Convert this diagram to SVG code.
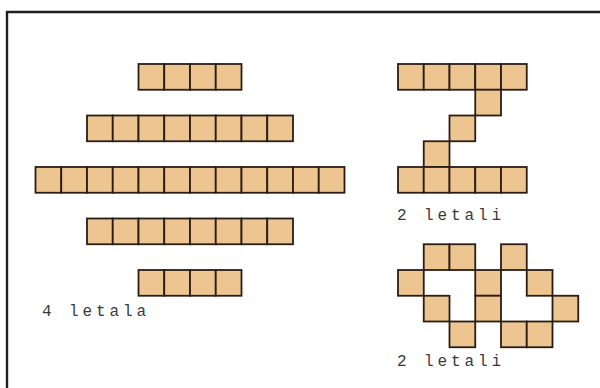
<svg xmlns="http://www.w3.org/2000/svg" xmlns:xlink="http://www.w3.org/1999/xlink" width="600" height="388" viewBox="0 0 600 388">
<style>
.sq{fill:#EDC591;stroke:#2b1d14;stroke-width:1.8}
.frame{fill:none;stroke:#1e1e1e;stroke-width:2.4}
.lbl{font-family:"Liberation Mono","DejaVu Sans Mono",monospace;font-size:16px;letter-spacing:3.9px;fill:#3a3a3a}
</style>
<defs>
<rect id="c" class="sq" width="25.75" height="25.75"/>
</defs>
<rect width="600" height="388" fill="#ffffff"/>
<path class="frame" d="M7,388 V12 H600"/>
<g id="bar-4-top">
<use href="#c" x="138.5" y="64"/><use href="#c" x="164.25" y="64"/><use href="#c" x="190" y="64"/><use href="#c" x="215.75" y="64"/>
</g>
<g id="bar-8-upper">
<use href="#c" x="87" y="115.5"/><use href="#c" x="112.75" y="115.5"/><use href="#c" x="138.5" y="115.5"/><use href="#c" x="164.25" y="115.5"/><use href="#c" x="190" y="115.5"/><use href="#c" x="215.75" y="115.5"/><use href="#c" x="241.5" y="115.5"/><use href="#c" x="267.25" y="115.5"/>
</g>
<g id="bar-12">
<use href="#c" x="35.5" y="167"/><use href="#c" x="61.25" y="167"/><use href="#c" x="87" y="167"/><use href="#c" x="112.75" y="167"/><use href="#c" x="138.5" y="167"/><use href="#c" x="164.25" y="167"/><use href="#c" x="190" y="167"/><use href="#c" x="215.75" y="167"/><use href="#c" x="241.5" y="167"/><use href="#c" x="267.25" y="167"/><use href="#c" x="293" y="167"/><use href="#c" x="318.75" y="167"/>
</g>
<g id="bar-8-lower">
<use href="#c" x="87" y="218.5"/><use href="#c" x="112.75" y="218.5"/><use href="#c" x="138.5" y="218.5"/><use href="#c" x="164.25" y="218.5"/><use href="#c" x="190" y="218.5"/><use href="#c" x="215.75" y="218.5"/><use href="#c" x="241.5" y="218.5"/><use href="#c" x="267.25" y="218.5"/>
</g>
<g id="bar-4-bottom">
<use href="#c" x="138.5" y="270"/><use href="#c" x="164.25" y="270"/><use href="#c" x="190" y="270"/><use href="#c" x="215.75" y="270"/>
</g>
<g id="z-shape">
<use href="#c" x="398" y="64"/><use href="#c" x="423.75" y="64"/><use href="#c" x="449.5" y="64"/><use href="#c" x="475.25" y="64"/><use href="#c" x="501" y="64"/>
<use href="#c" x="475.25" y="89.75"/>
<use href="#c" x="449.5" y="115.5"/>
<use href="#c" x="423.75" y="141.25"/>
<use href="#c" x="398" y="167"/><use href="#c" x="423.75" y="167"/><use href="#c" x="449.5" y="167"/><use href="#c" x="475.25" y="167"/><use href="#c" x="501" y="167"/>
</g>
<g id="chain-shape">
<use href="#c" x="423.75" y="244.25"/><use href="#c" x="449.5" y="244.25"/><use href="#c" x="501" y="244.25"/>
<use href="#c" x="398" y="270"/><use href="#c" x="475.25" y="270"/><use href="#c" x="526.75" y="270"/>
<use href="#c" x="423.75" y="295.75"/><use href="#c" x="475.25" y="295.75"/><use href="#c" x="552.5" y="295.75"/>
<use href="#c" x="449.5" y="321.5"/><use href="#c" x="501" y="321.5"/><use href="#c" x="526.75" y="321.5"/>
</g>
<g id="labels">
<text class="lbl" x="42" y="316">4 letala</text>
<text class="lbl" x="397" y="220">2 letali</text>
<text class="lbl" x="397" y="366">2 letali</text>
</g>
</svg>
